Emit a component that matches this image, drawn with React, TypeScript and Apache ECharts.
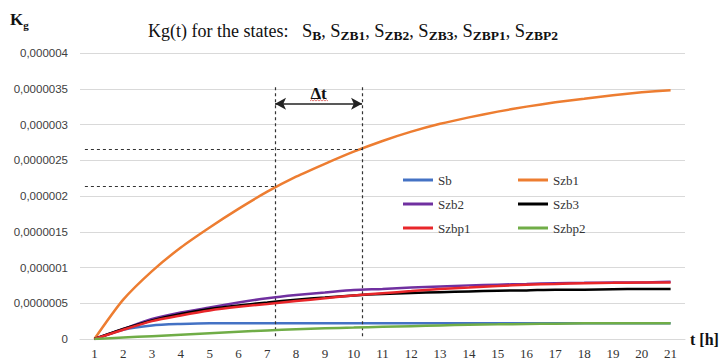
import { useEffect, useRef } from 'react';
import * as echarts from 'echarts';

// Time axis, hours
const hours = ['1', '2', '3', '4', '5', '6', '7', '8', '9', '10', '11', '12', '13', '14', '15', '16', '17', '18', '19', '20', '21'];

// Kg(t) per state, in units of 1e-6
const sbMicro = [0, 0.13, 0.19, 0.21, 0.22, 0.22, 0.22, 0.22, 0.22, 0.22, 0.22, 0.22, 0.22, 0.22, 0.22, 0.22, 0.22, 0.22, 0.22, 0.22, 0.22];
const szb1Micro = [0, 0.55, 0.95, 1.28, 1.56, 1.82, 2.06, 2.27, 2.45, 2.62, 2.77, 2.9, 3.01, 3.1, 3.18, 3.25, 3.31, 3.36, 3.41, 3.45, 3.48];
const szb2Micro = [0, 0.14, 0.28, 0.37, 0.44, 0.51, 0.57, 0.615, 0.65, 0.685, 0.7, 0.72, 0.735, 0.75, 0.76, 0.77, 0.78, 0.785, 0.79, 0.79, 0.8];
const szb3Micro = [0, 0.14, 0.26, 0.35, 0.42, 0.47, 0.51, 0.55, 0.58, 0.61, 0.63, 0.645, 0.655, 0.665, 0.675, 0.68, 0.69, 0.69, 0.695, 0.7, 0.7];
const szbp1Micro = [0, 0.13, 0.25, 0.33, 0.4, 0.45, 0.49, 0.53, 0.57, 0.61, 0.64, 0.67, 0.7, 0.72, 0.74, 0.76, 0.77, 0.78, 0.785, 0.79, 0.79];
const szbp2Micro = [0, 0.02, 0.04, 0.06, 0.08, 0.1, 0.12, 0.135, 0.15, 0.16, 0.17, 0.18, 0.19, 0.2, 0.205, 0.21, 0.215, 0.22, 0.22, 0.22, 0.22];

const seriesNames = ['Sb', 'Szb1', 'Szb2', 'Szb3', 'Szbp1', 'Szbp2'];
const seriesMicro = [sbMicro, szb1Micro, szb2Micro, szb3Micro, szbp1Micro, szbp2Micro];
const seriesColors = ['#4472C4', '#ED7D31', '#7030A0', '#000000', '#E8262A', '#70AD47'];

// Δt construction on the Szb1 curve (t in hours, Kg absolute)
const deltaT = [7.27, 10.29];
const deltaKg = [2.13e-6, 2.66e-6];
const arrowKg = 3.29e-6;
const guideTopKg = 3.52e-6;
const guideBottomKg = 0;
const guideStartT = 0.67;

const yTicks = { min: 0, max: 4e-6, interval: 5e-7 };

const SERIF = 'Liberation Serif, Times New Roman, serif';
const SANS = 'Liberation Sans, Arial, sans-serif';

function formatKg(v: number): string {
  if (Math.abs(v) < 1e-12) return '0';
  return v.toFixed(7).replace(/0+$/, '').replace('.', ',');
}

export default function App() {
  const ref = useRef<HTMLDivElement>(null);

  useEffect(() => {
    document.body.style.margin = '0';
    if (!ref.current) return;
    const chart = echarts.init(ref.current, undefined, { renderer: 'svg' });

    const dashed = { color: '#333', type: [3, 3] as any, width: 1.2 };

    const lineSeries = seriesNames.map((name, i) => ({
      name,
      type: 'line',
      xAxisIndex: 0,
      yAxisIndex: 0,
      data: seriesMicro[i].map((v) => v * 1e-6),
      symbol: 'none',
      smooth: 0.25,
      color: seriesColors[i],
      lineStyle: { width: 2.5, color: seriesColors[i] },
      z: 3 + i,
    }));

    const guideSeries = {
      name: 'guides',
      type: 'line',
      xAxisIndex: 1,
      yAxisIndex: 0,
      data: [],
      symbol: 'none',
      clip: false,
      silent: true,
      z: 10,
      markLine: {
        silent: true,
        symbol: 'none',
        animation: false,
        label: { show: false },
        lineStyle: dashed,
        data: [
          [{ coord: [deltaT[0], guideTopKg] }, { coord: [deltaT[0], guideBottomKg] }],
          [{ coord: [deltaT[1], guideTopKg] }, { coord: [deltaT[1], guideBottomKg] }],
          [{ coord: [guideStartT, deltaKg[0]] }, { coord: [deltaT[0], deltaKg[0]] }],
          [{ coord: [guideStartT, deltaKg[1]] }, { coord: [deltaT[1], deltaKg[1]] }],
          [
            {
              coord: [deltaT[0], arrowKg],
              symbol: 'arrow',
              symbolSize: [9, 11],
              lineStyle: { color: '#222', type: 'solid', width: 1.6 },
              label: {
                show: true,
                position: 'middle',
                formatter: 'Δt',
                distance: 2,
                color: '#111',
                fontFamily: SERIF,
                fontWeight: 'bold',
                fontSize: 17,
              },
            },
            { coord: [deltaT[1], arrowKg], symbol: 'arrow', symbolSize: [9, 11] },
          ],
        ],
      },
    };

    chart.setOption({
      animation: false,
      backgroundColor: '#ffffff',
      title: {
        left: 148,
        top: 19,
        padding: 0,
        text: '{t|Kg(t) for the states:}   {s|S}{b|B}, {s|S}{b|ZB1}, {s|S}{b|ZB2}, {s|S}{b|ZB3}, {s|S}{b|ZBP1}, {s|S}{b|ZBP2}',
        textStyle: {
          fontFamily: SERIF,
          fontWeight: 'normal',
          fontSize: 18,
          color: '#111',
          lineHeight: 23,
          rich: {
            t: { fontFamily: SERIF, fontSize: 18, color: '#111', lineHeight: 23 },
            s: { fontFamily: SERIF, fontSize: 18.5, color: '#111', lineHeight: 23 },
            b: { fontFamily: SERIF, fontSize: 13.5, fontWeight: 'bold', color: '#111', lineHeight: 15, verticalAlign: 'bottom' },
          },
        },
      },
      graphic: [
        {
          type: 'text',
          left: 10,
          top: 11,
          style: {
            text: '{k|K}{g|g}',
            rich: {
              k: { fontFamily: SERIF, fontSize: 17, fontWeight: 'bold', fill: '#111', lineHeight: 22 },
              g: { fontFamily: SERIF, fontSize: 11, fontWeight: 'bold', fill: '#111', lineHeight: 12, verticalAlign: 'bottom' },
            },
          },
        },
        {
          // spell-check underline beneath the Δt caption
          type: 'polyline',
          silent: true,
          shape: {
            points: [
              [310, 101], [311.5, 99.8], [313, 101], [314.5, 99.8], [316, 101], [317.5, 99.8],
              [319, 101], [320.5, 99.8], [322, 101], [323.5, 99.8], [325, 101], [326.5, 99.8], [328, 101],
            ],
          },
          style: { stroke: '#d9534f', lineWidth: 0.8, fill: null },
          z: 20,
        },
      ],
      legend: {
        left: 403,
        top: 173,
        width: 235,
        padding: 0,
        itemGap: 10,
        itemWidth: 30,
        itemHeight: 3,
        icon: 'rect',
        data: seriesNames,
        textStyle: { fontFamily: SERIF, fontSize: 13, color: '#333', width: 70, lineHeight: 14 },
      },
      grid: { left: 80, right: 38, top: 53, bottom: 21, containLabel: false },
      xAxis: [
        {
          type: 'category',
          data: hours,
          boundaryGap: true,
          axisTick: { show: false },
          axisLine: { lineStyle: { color: '#d9d9d9', width: 1 } },
          axisLabel: { fontFamily: SERIF, fontSize: 13, color: '#333', margin: 8 },
          splitLine: { show: false },
          name: 't [h]',
          nameLocation: 'end',
          nameGap: 5,
          nameTextStyle: { fontFamily: SERIF, fontSize: 16, fontWeight: 'bold', color: '#111', verticalAlign: 'middle', align: 'left' },
        },
        {
          type: 'value',
          min: 0.5,
          max: 21.5,
          show: false,
        },
      ],
      yAxis: {
        type: 'value',
        min: yTicks.min,
        max: yTicks.max,
        interval: yTicks.interval,
        axisLine: { show: false },
        axisTick: { show: false },
        axisLabel: { fontFamily: SANS, fontSize: 11.5, color: '#404040', margin: 12, formatter: formatKg },
        splitLine: { lineStyle: { color: '#d9d9d9', width: 1 } },
      },
      series: [...lineSeries, guideSeries],
    });

    return () => chart.dispose();
  }, []);

  return <div ref={ref} style={{ width: 723, height: 360 }} />;
}
